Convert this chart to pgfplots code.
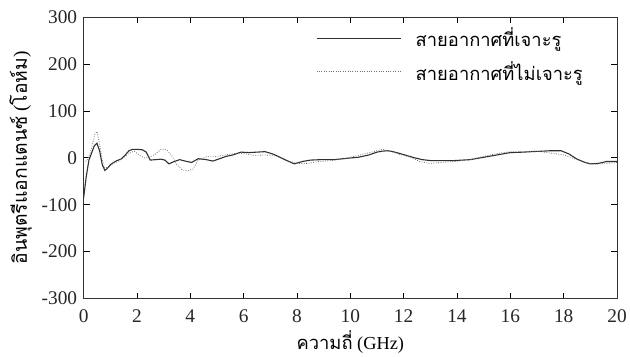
\documentclass[border=0pt]{standalone}
\usepackage{fontspec}
\setmainfont{Liberation Serif}
\newfontfamily\thaifont[Script=Thai]{Loma}
\usepackage{pgfplots}
\pgfplotsset{compat=1.18}
\definecolor{solidc}{HTML}{303030}
\definecolor{dotc}{HTML}{707070}
\begin{document}
\begin{tikzpicture}[x=1bp,y=1bp]
\begin{axis}[
  scale only axis,
  width=536bp, height=283bp,
  xmin=0, xmax=20, ymin=-300, ymax=300,
  xtick={0,2,...,20}, ytick={-300,-200,...,300},
  tick align=inside, major tick length=6bp,
  tick style={black, line width=0.6pt},
  axis line style={black!80, line width=0.8pt},
  /pgf/number format/assume math mode=true,
  ticklabel style={font=\fontsize{19.5}{21}\selectfont, text=black!85},
  xticklabel style={yshift=-8bp},
  yticklabel style={xshift=-3bp},
  xlabel={{\thaifont ความถี่} (GHz)},
  ylabel={{\thaifont อินพุตรีแอกแตนซ์} ({\thaifont โอห์ม})},
  xlabel style={font=\fontsize{18.5}{20}\selectfont, yshift=-1bp},
  ylabel style={font=\fontsize{19.5}{21}\selectfont, yshift=3bp},
  clip=false,
  legend style={draw=none, fill=none, at={(0.43,0.975)}, anchor=north west,
    font=\thaifont\fontsize{18.5}{20}\selectfont, row sep=9bp,
    /tikz/every odd column/.append style={column sep=12bp}},
  legend cell align=left,
  legend image code/.code={\draw[#1] (0bp,0bp) -- (85bp,0bp);},
]
\addplot[solidc, line width=1.1pt] coordinates {
(0,-86) (0.1,-40) (0.2,-5) (0.3,10) (0.4,25) (0.5,31) (0.6,15) (0.7,-15) (0.8,-27) (0.9,-22)
(1.0,-15) (1.1,-11) (1.25,-6) (1.4,-3) (1.55,5) (1.7,15) (1.85,18) (2.0,18) (2.2,17) (2.35,12)
(2.5,-5) (2.7,-4) (2.9,-3) (3.05,-5) (3.2,-13) (3.4,-8) (3.6,-4) (3.8,-7) (4.05,-10) (4.3,-2)
(4.6,-4) (4.85,-7) (5.1,-2) (5.35,3) (5.6,6) (5.9,12) (6.2,11) (6.5,12) (6.8,13) (7.1,8)
(7.4,0) (7.7,-8) (7.9,-13) (8.2,-8) (8.5,-5) (8.9,-4) (9.4,-4) (9.9,-1) (10.3,1) (10.7,6)
(11.0,12) (11.2,14) (11.4,15) (11.6,13) (11.8,10) (12.1,5) (12.4,0) (12.7,-4) (13.0,-6) (13.5,-6)
(13.9,-6) (14.5,-4) (15.1,2) (15.6,7) (16.0,11) (16.5,12) (16.8,13) (17.2,14) (17.5,15) (17.9,15)
(18.2,8) (18.5,-3) (18.8,-10) (19.0,-13) (19.3,-12) (19.6,-8) (20,-8)
};
\addlegendentry{สายอากาศที่เจาะรู}
\addplot[dotc, line width=0.8pt, dash pattern=on 0.8pt off 1.6pt] coordinates {
(0,-10) (0.15,-5) (0.3,20) (0.42,50) (0.5,56) (0.6,30) (0.7,-5) (0.8,-22) (0.95,-20) (1.1,-12)
(1.3,-8) (1.5,0) (1.7,10) (1.9,14) (2.1,5) (2.3,-1) (2.5,2) (2.7,8) (2.9,18) (3.1,18)
(3.3,5) (3.5,-15) (3.7,-26) (3.9,-28) (4.1,-24) (4.3,-5) (4.6,2) (4.9,2) (5.2,5) (5.5,8)
(5.8,10) (6.1,8) (6.4,5) (6.8,6) (7.2,4) (7.6,-6) (8.0,-12) (8.4,-12) (8.8,-8) (9.3,-6)
(9.8,-2) (10.3,5) (10.8,12) (11.2,18) (11.5,14) (11.8,8) (12.2,2) (12.6,-8) (13.0,-12) (13.4,-10)
(13.9,-8) (14.5,-4) (15.0,3) (15.5,9) (16.0,13) (16.5,13) (17.0,14) (17.5,10) (18.0,6) (18.4,-2)
(18.8,-10) (19.2,-14) (19.6,-12) (20,-10)
};
\addlegendentry{สายอากาศที่ไม่เจาะรู}
\path (axis description cs:-0.1567,-0.1767) rectangle (axis description cs:1.0187,1.0601);
\end{axis}
\end{tikzpicture}
\end{document}
